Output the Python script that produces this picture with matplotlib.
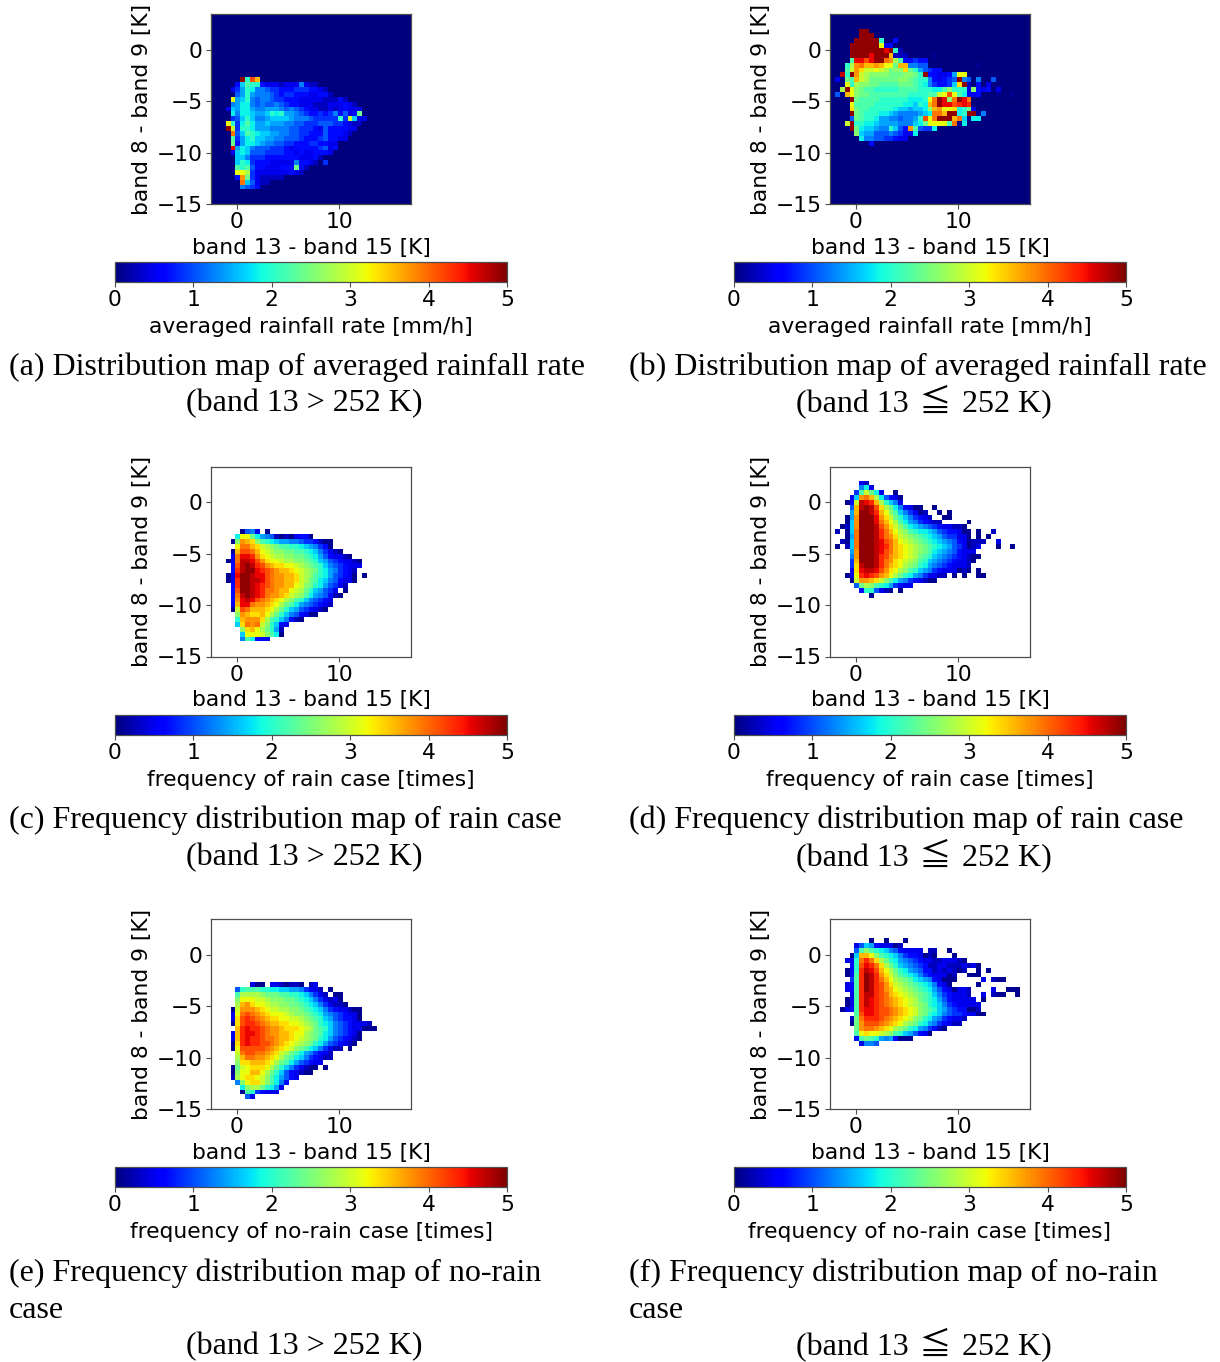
#!/usr/bin/env python3
"""Six band-difference maps with a colour bar and a caption under each."""
import matplotlib
matplotlib.use("Agg")
import matplotlib.pyplot as plt
import numpy as np

# one letter per cell: a = low ... z = 5 on the colour scale, "." = no data
MAP_A_FIRST = 13
MAP_A = [
    "......zkvs",
    ".....dilkkdcccbcccgcbb",
    "....cehkjggfeedddeeeddcb",
    ".....fhkhgggfedeedddccddb",
    "....qhikgfggfeedddcccccbbbdb",
    "....ghjjgfgffgfeddcccbbbcccdcb",
    "...cihjjhgghhhgfgfedccbbcbcdccc",
    "....jgjjihhikjkhhgfeddedegdfcdm",
    "....efikigghiiiihgggfeeeeekepicc",
    "...qkejljhhihhhggffeeefffeedcbb",
    "...zpekkjhhhggggffeeedcfddddcc",
    "....ufilkjiihhggffeedddfdddcb",
    "....lehjkiihhggfffedddefddcc",
    "....mdhjjihggffeedddeeddcc",
    "....xhjigfffeeedcdddddefcd",
    "....cijifffeeeeddcdccdddc",
    ".....iigeeedddddddcccdb",
    ".....ikjedddcccccgddcb.e",
    ".....lklfddcccdddmdb",
    ".....qqoecccccccdcb",
    ".....dtmecbbbbb",
    "......uifcbb",
    "......gfeda",
]
MAP_B_FIRST = 3
MAP_B = [
    "......zz",
    "......zzz",
    ".....zzzzzk..d",
    "....zzzzzzqcd",
    "....zzzzzzzxzkb",
    "....zzzzxzzzsbbb.....a",
    "....lxxvxzzutolddedd",
    "...kotusstsqqmssggff..........a",
    "...lptrppqpomnnrmkhfedd",
    "..ykztponnnnmmmnnmkzddccdhqq",
    ".c.mlspommmmmmnnmlkkgdcdefzgf.g..f",
    "...qkonnmmllllmmmlkjgeddeirzb.d.c",
    "..ozqnmllkkkkkllllkkkjjlnkkkcndcd.c",
    ".f.sqnmmllllllllkkkkllpqvqljccd...a..a",
    "....zmllllkkkkkkjjjkquzxnuzxu",
    "....qllllkkkkkkjjikjsuzxxvwxw",
    "....rmllkkkkkjiihiijnstqqrjkmc",
    "....zmlkkkjjihgggghijuuszzjkzzag",
    "....fmlkkjhhggfgghkvquzzzsuiajj",
    "...pzkkjjihhhhgggijmqqqqluaj",
    "....zmjiihggkifdtlfeej",
    ".....nihhfffgfeccj",
    "......jggffeedcc",
    "........d",
]
MAP_C_FIRST = 13
MAP_C = [
    "......afgc.a",
    ".....jqqmjhgfbabacdda",
    "....antsrnlkjihhggfeedbaa",
    ".....quusrponmllkkjihgeda",
    "....asvvusqponnmmllkjigecba",
    "....cuxxwtrqpoonnmmlkjhfdccba",
    "...acuyyxvtrqqpoonnmlkihfedccba",
    "....dvyzywvtsrrqqponmlkigfedccc",
    "....dwyzzxwvutssrqponmkjhgedcb",
    "...acxzzyxxvuttssrponlkjhfedca.a",
    "...acwzzyyxvuttssrpomljigfdcca",
    "....dwzzyxwvuttssqpnmkjhfecb",
    "....dvzzyxwuutssqpomkihfec.a",
    "....duyzyxwuttsrponljhgfdba",
    "....dtxyxvutsrqonlkigfedc",
    "....csxxuttsrqomljhgfedcb",
    "....apvusssrqomkihfedcba",
    ".....ntsrrsqomkigfdcaa",
    ".....kstttrolkigdba",
    ".....irutupnkidc",
    "......nrsqomkhb",
    "......iqqqpnlja",
    "......gljddc",
]
MAP_D_FIRST = 3
MAP_D = [
    "......cb",
    "......gjc",
    ".....elpmjc..a",
    "....citusojfdca",
    "...adpyxwsokigc",
    "....fsyzyvromjgdcaa..a",
    "....hszzywsqnligecab..a.a",
    "...ahtzzzxtrpmkigedcb..aa",
    "...aitzzzxusqoljhgedcbb.....a",
    "..abitzzzyvtrpnljihgfedccbba",
    ".b.aiuzzzywusqonlkjjihfeddcaa.a..b",
    "...ahuzzzywutrponmlkjihfeecca.a.a",
    "..baiuzzzyxvusqponmlkjihgfdcabbb..c",
    ".a.biuzzzyxwusrqponmlkjihfecabc...a..a",
    "....htzzzyxvusrqponmljihgfdccc",
    "....gtzzzywvtsrqpomlkihgfedcbaa",
    "....eszzzywutrqponlkihgfedccba",
    "....eryzzywusrqonmkjhgfedcccb",
    "....crxyyxvtrqonlkihgedcccaba.a",
    "...acqwxwvtsqomkjhgeccbb.a.a..aa",
    "....apttsrpnljhgedcbaa",
    ".....fmonlkjhedcc",
    "......dkkfcba.a",
    "........a",
]
MAP_E_FIRST = 13
MAP_E = [
    "........caa.ccbabba.bc",
    ".....fklllkkjjiihhgeccb.a",
    ".....loooonmmmllkkjigecb.aa",
    ".....nqqqpponnnmmlkjigecbca",
    ".....ostrqqpoonnmmlkjigecbba",
    "....aptttsrqppoonnmlkjigedccbaa",
    "....cquvutsrqqqponnmlkjhgfedcca",
    "....crvwvutsrrqqpponmlkihfeddca",
    "....arvwwvutssrrqqponmkjigfedcccb",
    ".....swxwwvuttsrrrqpomlkigfedccaaa",
    "....cswxxwvuttssrqqonmljigfedca",
    "....cswxwwvuutssrqponmkjhfedcba",
    "....arwxwwvvutsrqponmkjhfedcba",
    "....aqvvvvvutsrqpnmljigecbb.a",
    ".....puvvuutsrpomljhgedcb",
    ".....osuuttsrqomljigedcbb",
    ".....nrrsssrqomljhfedcc",
    "....ampqrrrqomkigecbaa.a",
    "....anqqssqomkifdcbaa",
    "....boqrrqpnljhfdc",
    ".....gnqrrpnljgd",
    "......jnoomkjhc",
    "......alkedccc",
    ".......fc",
]
MAP_F_FIRST = 4
MAP_F = [
    "........a..a...a",
    ".....cfihdcccab",
    ".....flnlkjigfdcccc.bb..a",
    "....aissqnlkjigeddcaba...a",
    "...cckuwuromkjhgfedccbbcccba",
    "....dkvxwuromkihgfedbbccbbbcbca",
    "...adkwyxvsqomkjhgfddbcbcbab..a.a",
    "...adlwzywtrpnlkjigedcccab..aaa",
    "....elwzywusqonmljihgdcaaa.....c.baa",
    "...cdlwzywvtrponmlkjigdca.....a",
    "...cdlwzywvtsqponmlkjhfdcaccb....c..aaa",
    "....clwyywvusrqponmlkigedcccb..c.baa..a",
    "...aclwyxwvutsrqpomlkjhfdccccc.a",
    "...aclwyxwvutsrqponmkjigedccccc",
    "..acdlwxxwvvutsrqpnmlkihfeddaab",
    ".....lvxxwvvutsrqpnmkjigfeedccaa",
    "....bmuwwwvutsrqpnmkjhgedccb",
    "....amtvvvutsrqonmkjhgedcbb",
    ".....mtuutsrqonmkjhgedba",
    ".....lqrqqponlkihfdca",
    ".....dlmlkhghdaaa",
    "......cggf",
]

X_TICKS = [0, 10]
Y_TICKS = [0, -5, -10, -15]
CBAR_TICKS = [0, 1, 2, 3, 4, 5]
X_LABEL = "band 13 - band 15 [K]"
Y_LABEL = "band 8 - band 9 [K]"
CBAR_LABELS = [
    "averaged rainfall rate [mm/h]", "averaged rainfall rate [mm/h]",
    "frequency of rain case [times]", "frequency of rain case [times]",
    "frequency of no-rain case [times]", "frequency of no-rain case [times]",
]
CAPTIONS = [
    ["(a) Distribution map of averaged rainfall rate"],
    ["(b) Distribution map of averaged rainfall rate"],
    ["(c) Frequency distribution map of rain case"],
    ["(d) Frequency distribution map of rain case"],
    ["(e) Frequency distribution map of no-rain", "case"],
    ["(f) Frequency distribution map of no-rain", "case"],
]
COND_WARM = "(band 13 > 252 K)"
COND_COLD = "(band 13 \u200a\u2266\u200a 252 K)"

N_ROWS, N_COLS = 39, 41
W, H = 1220, 1362
GRAY = "#4d4d4d"
SERIF = ["Liberation Serif", "Noto Sans CJK JP", "DejaVu Sans"]


def to_grid(rows, first, fill):
    grid = np.full((N_ROWS, N_COLS), fill, dtype=float)
    for i, row in enumerate(rows):
        for j, ch in enumerate(row):
            if ch != ".":
                grid[first + i, j] = (ord(ch) - 97 + 0.5) / 26 * 5
    return grid


def rect(x0, y0, x1, y1):
    return [x0 / W, 1 - y1 / H, (x1 - x0) / W, (y1 - y0) / H]


def style(ax):
    for s in ax.spines.values():
        s.set_color(GRAY)
        s.set_linewidth(0.9)
    ax.tick_params(labelsize=15.7, length=3.5, width=0.8, color=GRAY, pad=2.5)


grids = [
    to_grid(MAP_A, MAP_A_FIRST, 0.0), to_grid(MAP_B, MAP_B_FIRST, 0.0),
    to_grid(MAP_C, MAP_C_FIRST, np.nan), to_grid(MAP_D, MAP_D_FIRST, np.nan),
    to_grid(MAP_E, MAP_E_FIRST, np.nan), to_grid(MAP_F, MAP_F_FIRST, np.nan),
]
cmap = plt.get_cmap("jet").copy()
cmap.set_bad("white")

fig = plt.figure(figsize=(W / 100, H / 100), dpi=100)
for k, grid in enumerate(grids):
    col, row = k % 2, k // 2
    dx = 619 * col
    dy = 452.5 * row

    ax = fig.add_axes(rect(211 + dx, 14 + dy, 411 + dx, 204 + dy))
    im = ax.imshow(grid, cmap=cmap, vmin=0, vmax=5, extent=[-2.5, 17, -15, 3.5],
                   aspect="auto", interpolation="nearest")
    ax.set_xticks(X_TICKS)
    ax.set_yticks(Y_TICKS)
    style(ax)
    ax.set_xlabel(X_LABEL, fontsize=15.7, labelpad=4)
    ax.set_ylabel(Y_LABEL, fontsize=15.7, labelpad=3)

    cax = fig.add_axes(rect(115 + dx, 262 + dy, 507 + dx, 282 + dy))
    cb = fig.colorbar(im, cax=cax, orientation="horizontal")
    cb.set_ticks(CBAR_TICKS)
    style(cax)
    cb.outline.set_edgecolor(GRAY)
    cb.set_label(CBAR_LABELS[k], fontsize=15.7, labelpad=5)

    x_text = (9 + dx + col) / W
    y_text = 374.5 + dy + min(row, 1)
    for line in CAPTIONS[k]:
        fig.text(x_text, 1 - y_text / H, line, family=SERIF, fontsize=23, va="baseline")
        y_text += 37
    fig.text((304 + col + dx) / W, 1 - y_text / H, COND_COLD if col else COND_WARM,
             family=SERIF, fontsize=23, ha="center", va="baseline")

fig.savefig("out.png", dpi=100)
